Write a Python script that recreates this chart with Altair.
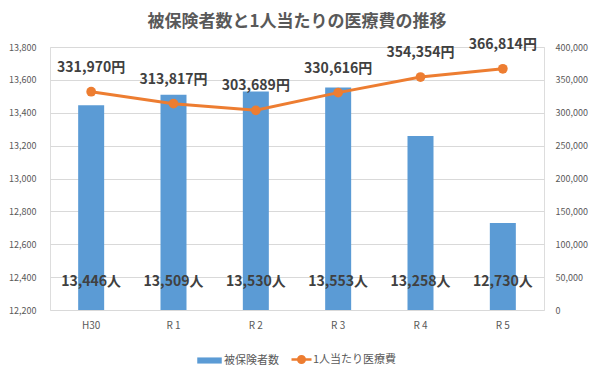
import altair as alt
import pandas as pd

years = ["H30", "R 1", "R 2", "R 3", "R 4", "R 5"]
members = [13446, 13509, 13530, 13553, 13258, 12730]
cost = [331970, 313817, 303689, 330616, 354354, 366814]

FONT = "Noto Sans CJK JP"
BLUE = "#5b9bd5"
ORANGE = "#ed7d31"

df = pd.DataFrame({
    "year": years,
    "members": members,
    "cost": cost,
    "mlabel": [f"{v:,}人" for v in members],
    "clabel": [f"{v:,}円" for v in cost],
    "s1": ["被保険者数"] * len(years),
    "s2": ["1人当たり医療費"] * len(years),
})

x = alt.X("year:N", sort=years, title=None,
          scale=alt.Scale(paddingInner=0, paddingOuter=0),
          axis=alt.Axis(labelAngle=0, domain=False, ticks=False, labelPadding=10,
                        labelFontSize=10, labelColor="#595959", labelFont=FONT))

left_axis = alt.Axis(values=list(range(12200, 13801, 200)), format=",d",
                     domain=False, ticks=False, labelPadding=14, grid=True,
                     labelOverlap=False,
                     gridColor="#d9d9d9", labelFontSize=9, labelColor="#595959",
                     labelFont=FONT)
left_scale = alt.Scale(domain=[12200, 13800], zero=False, nice=False)

yl = alt.Y("members:Q", title=None, scale=left_scale, axis=left_axis)

bar_symbol = "M-1,-0.25H1V0.25H-1Z"
line_symbol = ("M-1,0H-0.33M0.33,0H1M-0.33,0A0.33,0.33 0 1 1 0.33,0"
               "A0.33,0.33 0 1 1 -0.33,0")

bars = alt.Chart(df).mark_bar(size=26, color=BLUE).encode(
    x=x,
    y=yl,
    y2=alt.datum(12200),
    color=alt.Color("s1:N", scale=alt.Scale(domain=["被保険者数"], range=[BLUE]),
                    legend=alt.Legend(title=None, orient="none", legendX=147, legendY=301,
                                      symbolType=bar_symbol, symbolSize=600,
                                      symbolStrokeWidth=0,
                                      labelFontSize=11, labelColor="#595959",
                                      labelFont=FONT, labelOffset=2)),
)

bar_text = alt.Chart(df).mark_text(fontSize=14, fontWeight="bold", color="#404040",
                                   font=FONT, baseline="middle").encode(
    x=x,
    y=alt.YDatum(12370, scale=left_scale, axis=left_axis, title=None),
    text="mlabel:N",
)

left = alt.layer(bars, bar_text)

yr = alt.Y("cost:Q", title=None,
           scale=alt.Scale(domain=[0, 400000], nice=False),
           axis=alt.Axis(orient="right", values=list(range(0, 400001, 50000)), format=",d",
                         domain=False, ticks=False, labelPadding=11, grid=False,
                         labelOverlap=False,
                         labelFontSize=9, labelColor="#595959", labelFont=FONT))

line = alt.Chart(df).mark_line(strokeWidth=3,
                               point=alt.OverlayMarkDef(size=95, filled=True, color=ORANGE)).encode(
    x=x,
    y=yr,
    color=alt.Color("s2:N", scale=alt.Scale(domain=["1人当たり医療費"], range=[ORANGE]),
                    legend=alt.Legend(title=None, orient="none", legendX=240, legendY=301,
                                      symbolType=line_symbol, symbolSize=400,
                                      symbolStrokeWidth=2.5,
                                      symbolFillColor=ORANGE, symbolStrokeColor=ORANGE,
                                      labelFontSize=11, labelColor="#595959",
                                      labelFont=FONT, labelOffset=0)),
)

line_text = alt.Chart(df).mark_text(fontSize=14, fontWeight="bold", color="#404040",
                                    font=FONT, baseline="middle", dy=-24).encode(
    x=x,
    y=yr,
    text="clabel:N",
)

right = alt.layer(line, line_text)

chart = alt.layer(left, right).resolve_scale(
    y="independent", color="independent"
).resolve_legend(color="independent").properties(
    width=494,
    height=263,
    autosize=alt.AutoSizeParams(type="none"),
    padding={"left": 42, "top": 39, "right": 48, "bottom": 56},
    title=alt.TitleParams("被保険者数と1人当たりの医療費の推移", fontSize=17,
                          fontWeight="bold", color="#595959", font=FONT,
                          anchor="middle", offset=7),
).configure_view(stroke=None).configure_axis(labelOverlap=False).configure(background="white")

chart.save("out.html", embed_options={"renderer": "svg", "actions": False})
